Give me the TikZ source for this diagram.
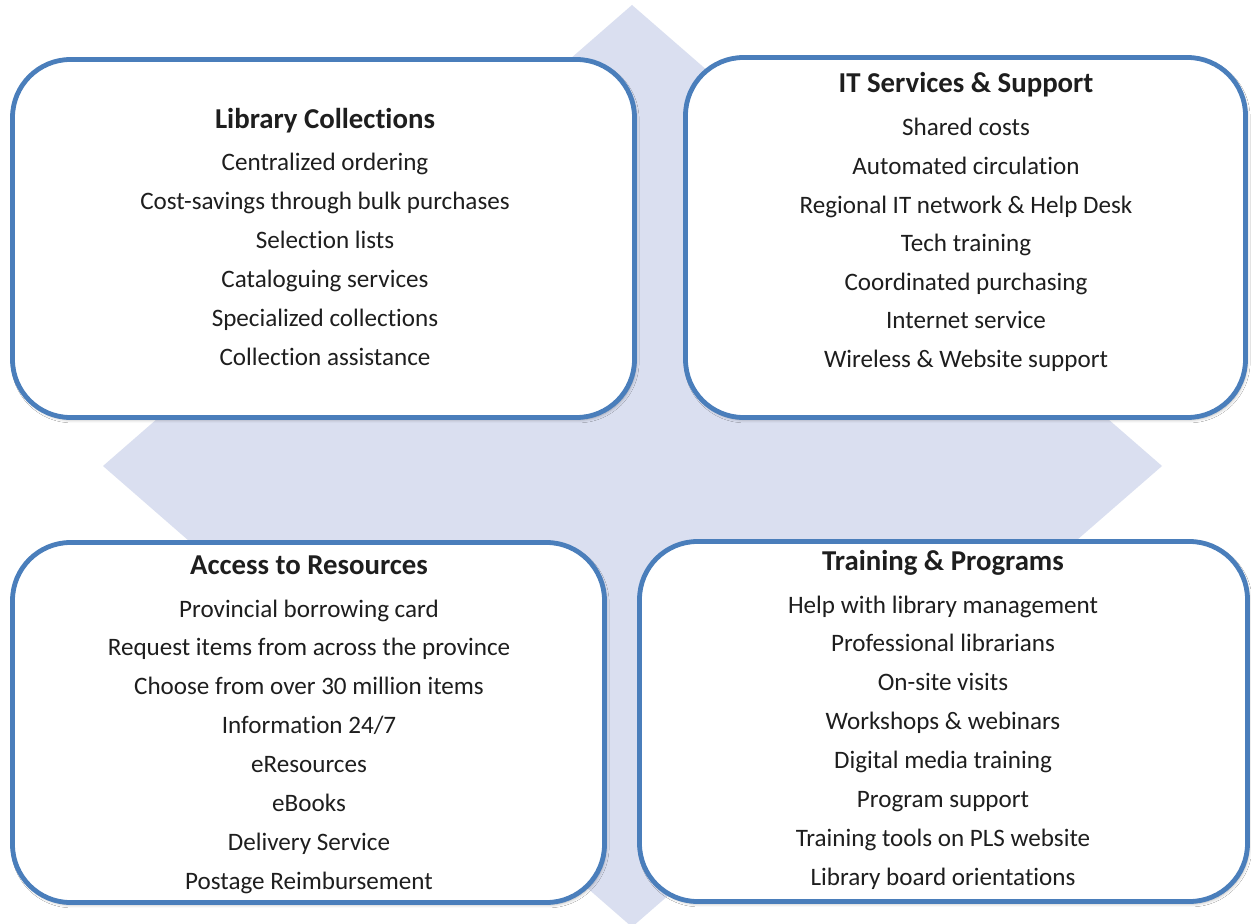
\documentclass[tikz,border=0pt]{standalone}
\usepackage{fontspec}
\setmainfont{Carlito}[Ligatures=NoCommon]
\usetikzlibrary{positioning,shadows.blur}
\definecolor{cFrame}{HTML}{4A7EBB}
\definecolor{cDiamond}{HTML}{DADFF0}
\definecolor{cInk}{HTML}{1E1E1E}
\tikzset{
  panel/.style 2 args = {rectangle, rounded corners=29pt, draw=cFrame, fill=white,
                         line width=2.4pt, minimum width=#1*0.5pt, minimum height=#2*0.5pt,
                         blur shadow={shadow xshift=0.8pt, shadow yshift=-1.2pt,
                                      shadow opacity=30, shadow blur radius=1.5pt}},
  head/.style  = {anchor=base, inner sep=0pt, text=cInk,
                  font=\fontsize{14.4}{17}\selectfont\bfseries},
  item/.style  = {anchor=base, inner sep=0pt, text=cInk,
                  font=\fontsize{12.55}{15}\selectfont},
}

\begin{document}
\begin{tikzpicture}[x=0.5pt, y=-0.5pt]
  \useasboundingbox (0,0) rectangle (1251,924);
  \fill[white] (0,0) rectangle (1251,924);

  % background diamond
  \fill[cDiamond] (632,5) -- (1162,466) -- (632,927) -- (103,466) -- cycle;

  % panels
  \node[panel={622}{358}] (lc)  at (323.5,238.5) {};
  \node[panel={560}{360}] (its) at (965.5,237.5) {};
  \node[panel={592}{360}] (acc) at (308.5,722.5) {};
  \node[panel={608}{360}] (trn) at (943.5,721.5) {};

  % Library Collections
  \node[head] (lcT) at (325,129) {Library Collections};
  \foreach \t [count=\i] in {Centralized ordering, Cost-savings through bulk purchases,
      Selection lists, Cataloguing services, Specialized collections, Collection assistance}
    \node[item] (lc\i) at (325,{171+38.9*(\i-1)}) {\t};

  % IT Services & Support
  \node[head] (itsT) at (966,93) {IT Services \& Support};
  \foreach \t [count=\i] in {Shared costs, Automated circulation,
      Regional IT network \& Help Desk, Tech training, Coordinated purchasing,
      Internet service, Wireless \& Website support}
    \node[item] (its\i) at (966,{136+38.6*(\i-1)}) {\t};

  % Access to Resources
  \node[head] (accT) at (309,574) {Access to Resources};
  \foreach \t [count=\i] in {Provincial borrowing card, Request items from across the province,
      Choose from over 30 million items, Information 24/7, eResources, eBooks,
      Delivery Service, Postage Reimbursement}
    \node[item] (acc\i) at (309,{617+38.86*(\i-1)}) {\t};

  % Training & Programs
  \node[head] (trnT) at (943,570) {Training \& Programs};
  \foreach \t [count=\i] in {Help with library management, Professional librarians,
      On-site visits, Workshops \& webinars, Digital media training, Program support,
      Training tools on PLS website, Library board orientations}
    \node[item] (trn\i) at (943,{613+38.86*(\i-1)}) {\t};
\end{tikzpicture}
\end{document}
